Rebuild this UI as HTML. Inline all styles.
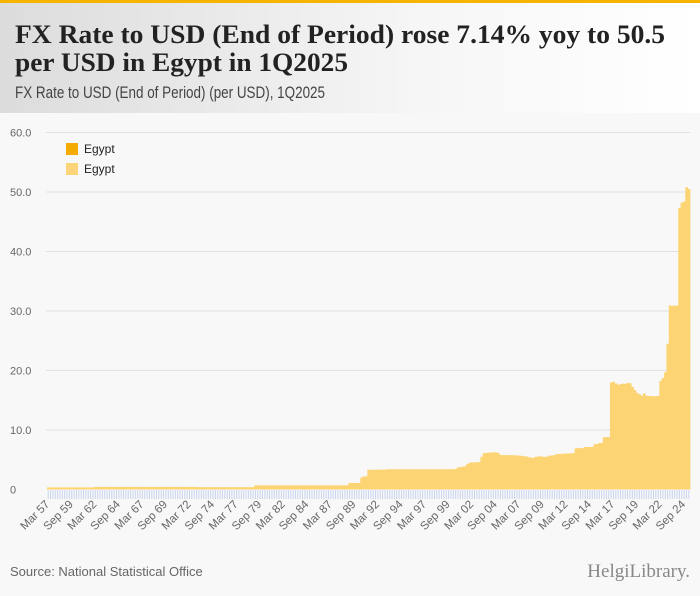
<!DOCTYPE html>
<html><head><meta charset="utf-8"><style>
html,body{margin:0;padding:0;width:700px;height:596px;overflow:hidden;background:#f8f8f8}
svg{display:block}
</style></head><body>
<svg id="chart" width="700" height="596" xmlns="http://www.w3.org/2000/svg">
<defs><linearGradient id="hg" x1="0" x2="1" y1="0" y2="0"><stop offset="0" stop-color="#dcdcdc"/><stop offset="0.6" stop-color="#f6f6f6"/><stop offset="1" stop-color="#ffffff"/></linearGradient></defs>
<rect x="0" y="0" width="700" height="113" fill="url(#hg)"/>
<rect x="0" y="0" width="700" height="3" fill="#f5b400"/>
<text x="15" y="43" font-family="Liberation Serif, serif" font-weight="bold" font-size="26" fill="#222" textLength="650" lengthAdjust="spacingAndGlyphs">FX Rate to USD (End of Period) rose 7.14% yoy to 50.5</text>
<text x="15" y="71" font-family="Liberation Serif, serif" font-weight="bold" font-size="26" fill="#222" textLength="333" lengthAdjust="spacingAndGlyphs">per USD in Egypt in 1Q2025</text>
<text x="15" y="98" font-family="Liberation Sans, sans-serif" font-size="17" fill="#444" textLength="310" lengthAdjust="spacingAndGlyphs">FX Rate to USD (End of Period) (per USD), 1Q2025</text>
<g id="grid"></g>
<g id="yaxis"></g>
<g id="bars"></g>
<g id="xaxis"></g>
<g>
<rect x="66" y="143" width="12" height="12" fill="#f5ac00"/>
<text x="84" y="153" font-family="Liberation Sans, sans-serif" font-size="12" fill="#222">Egypt</text>
<rect x="66" y="163" width="12" height="12" fill="#fcd57a"/>
<text x="84" y="173" font-family="Liberation Sans, sans-serif" font-size="12" fill="#222">Egypt</text>
</g>
<text x="10" y="576" font-family="Liberation Sans, sans-serif" font-size="13" fill="#666">Source: National Statistical Office</text>
<text x="690" y="577" text-anchor="end" font-family="Liberation Serif, serif" font-size="19" fill="#888">HelgiLibrary.</text>
</svg>
<script>
const startYear = 1957;
const yTicks = [0, 10, 20, 30, 40, 50, 60];
const yTickLabels = ["0", "10.0", "20.0", "30.0", "40.0", "50.0", "60.0"];
const values = [
0.35,0.35,0.35,0.35, 0.35,0.35,0.35,0.35, 0.35,0.35,0.35,0.35, 0.35,0.35,0.35,0.35, 0.35,0.35,0.35,0.35,
0.43,0.43,0.43,0.43, 0.43,0.43,0.43,0.43, 0.43,0.43,0.43,0.43, 0.43,0.43,0.43,0.43, 0.43,0.43,0.43,0.43, 0.43,0.43,0.43,0.43,
0.43,0.43,0.43,0.43, 0.43,0.43,0.43,0.43, 0.43,0.43,0.43,0.43, 0.43,0.43,0.43,0.43, 0.43,0.43,0.43,0.43,
0.39,0.39,0.39,0.39, 0.39,0.39,0.39,0.39, 0.39,0.39,0.39,0.39, 0.39,0.39,0.39,0.39, 0.39,0.39,0.39,0.39, 0.39,0.39,0.39,0.39,
0.70,0.70,0.70,0.70, 0.70,0.70,0.70,0.70, 0.70,0.70,0.70,0.70, 0.70,0.70,0.70,0.70, 0.70,0.70,0.70,0.70,
0.70,0.70,0.70,0.70, 0.70,0.70,0.70,0.70, 0.70,0.70,0.70,0.70, 0.70,0.70,0.70,0.70, 0.70,0.70,0.70,0.70,
1.10,1.10,1.10,1.10, 1.10,2.00,2.20,2.20, 3.30,3.33,3.33,3.33, 3.34,3.34,3.34,3.34,
3.40,3.40,3.40,3.40, 3.40,3.40,3.40,3.40, 3.40,3.40,3.40,3.40, 3.40,3.40,3.40,3.40, 3.40,3.40,3.40,3.40, 3.40,3.40,3.40,3.40, 3.40,3.40,3.40,3.40,
3.42,3.45,3.70,3.75, 3.85,3.90,4.30,4.50, 4.55,4.55,4.60,4.60, 5.50,6.10,6.15,6.20, 6.20,6.25,6.25,6.15,
5.80,5.78,5.78,5.77, 5.77,5.75,5.75,5.72, 5.70,5.65,5.60,5.55, 5.45,5.35,5.30,5.50, 5.55,5.58,5.50,5.48,
5.55,5.70,5.72,5.80, 5.95,5.97,6.00,6.02, 6.05,6.05,6.07,6.10, 6.90,7.00,6.95,6.95, 7.15,7.15,7.15,7.15,
7.60,7.63,7.80,7.83, 8.80,8.80,8.80,18.00, 18.10,17.80,17.60,17.70, 17.80,17.75,17.90,17.85, 17.25,16.70,16.25,16.00,
15.75,16.15,15.75,15.72, 15.70,15.65,15.70,15.71, 18.25,18.75,19.70,24.50, 30.90,30.90,30.90,30.90, 47.30,48.20,48.40,50.80,
50.50
];
const labelEvery = 10;
const months = ["Mar", "Jun", "Sep", "Dec"];

const NS = "http://www.w3.org/2000/svg";
const X0 = 47, X1 = 690, Y0 = 489.5, Y60 = 132.5;
const n = values.length;
const bw = (X1 - X0) / n;
function xScale(i) { return X0 + i * bw; }
function yScale(v) { return Y0 - (v / 60) * (Y0 - Y60); }
function mk(tag, attrs, parent) {
  const e = document.createElementNS(NS, tag);
  for (const k in attrs) e.setAttribute(k, attrs[k]);
  parent.appendChild(e);
  return e;
}
const grid = document.getElementById("grid"), yaxis = document.getElementById("yaxis"),
      bars = document.getElementById("bars"), xaxis = document.getElementById("xaxis");
yTicks.forEach((t, k) => {
  if (t > 0) {
    const g = mk("line", {x1: 46, x2: 690, y1: yScale(t), y2: yScale(t), stroke: "#e2e2e2", "stroke-width": 1}, grid);
    
    
  }
  const tx = mk("text", {x: 10, y: yScale(t) + 4, "font-family": "Liberation Sans, sans-serif", "font-size": 11, fill: "#666"}, yaxis);
  tx.textContent = yTickLabels[k];
  
  
});
values.forEach((v, i) => {
  const r = mk("rect", {x: xScale(i), y: yScale(v), width: bw + 0.4, height: Y0 - yScale(v), fill: "#fcd473"}, bars);
  
  
  const tk = mk("line", {x1: xScale(i) + bw / 2, x2: xScale(i) + bw / 2, y1: 490, y2: 499, stroke: "#c8d5ef", "stroke-width": 1}, xaxis);
  
  
  if (i % labelEvery === 0) {
    const yr = startYear + Math.floor(i / 4);
    const lab = months[i % 4] + " " + String(yr % 100).padStart(2, "0");
    const cx = xScale(i) + bw / 2 + 2, cy = 505;
    const t = mk("text", {x: cx, y: cy, "text-anchor": "end", transform: "rotate(-45 " + cx + " " + cy + ")", "font-family": "Liberation Sans, sans-serif", "font-size": 11.5, fill: "#666"}, xaxis);
    t.textContent = lab;
    
    
  }
});
</script>
</body></html>
